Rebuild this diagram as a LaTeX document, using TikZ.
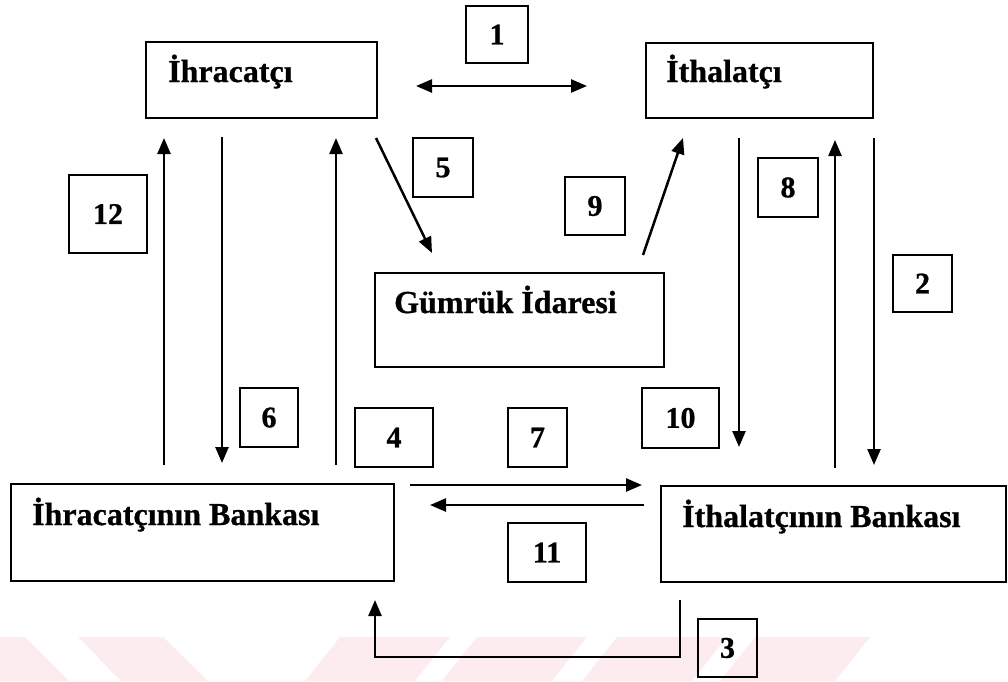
\documentclass[tikz,border=0pt]{standalone}
\usepackage{fontspec}
\setmainfont{Liberation Serif}[BoldFeatures={FakeBold=0.8}]
\usetikzlibrary{arrows.meta}
\definecolor{wm}{HTML}{FDECEF}
\begin{document}
\begin{tikzpicture}[x=1pt,y=-1pt,
  box/.style={draw, line width=2pt, inner sep=0pt},
  lbl/.style={font=\fontsize{32}{38}\selectfont\bfseries, inner sep=0pt, anchor=base west},
  num/.style={draw, line width=2pt, inner sep=0pt, font=\fontsize{30}{36}\selectfont\bfseries},
  arr/.style={line width=2.5pt, -{Triangle[length=16pt,width=13pt]}},
  darr/.style={line width=2.5pt, {Triangle[length=16pt,width=13pt]}-{Triangle[length=16pt,width=13pt]}},
]
\useasboundingbox (0,0) rectangle (1008,681);
% watermark
\fill[wm] (0,637) -- (25,637) -- (69,681) -- (0,681) -- cycle;
\fill[wm] (78,637) -- (163,637) -- (208,681) -- (121,681) -- cycle;
\fill[wm] (340,637) -- (450,637) -- (415,681) -- (305,681) -- cycle;
\fill[wm] (477,637) -- (587,637) -- (552,681) -- (442,681) -- cycle;
\fill[wm] (617,637) -- (727,637) -- (692,681) -- (582,681) -- cycle;
\fill[wm] (755,637) -- (870,637) -- (835,681) -- (720,681) -- cycle;

% main boxes
\node[box, minimum width=231pt, minimum height=76pt] (ihr) at (261.5,80) {};
\node[box, minimum width=227pt, minimum height=75pt] (ith) at (759.5,80.5) {};
\node[box, minimum width=289pt, minimum height=94pt] (gum) at (519.5,320) {};
\node[box, minimum width=383pt, minimum height=97pt] (ihrb) at (202.5,532.5) {};
\node[box, minimum width=345pt, minimum height=96pt] (ithb) at (833.5,534) {};
\node[lbl] (tihr) at (168,82) {İhracatçı};
\node[lbl] (tith) at (666,82) {İthalatçı};
\node[lbl] (tgum) at (394,313) {Gümrük İdaresi};
\node[lbl] (tihrb) at (32,525) {İhracatçının Bankası};
\node[lbl] (tithb) at (682,527) {İthalatçının Bankası};

% number boxes
\node[num, minimum width=62pt, minimum height=57pt] (n1) at (497,34.5) {1};
\node[num, minimum width=59pt, minimum height=57pt] (n2) at (922.5,283.5) {2};
\node[num, minimum width=59pt, minimum height=58pt] (n3) at (727.5,648) {3};
\node[num, minimum width=78pt, minimum height=59pt] (n4) at (394,437.5) {4};
\node[num, minimum width=60pt, minimum height=59pt] (n5) at (443,167.5) {5};
\node[num, minimum width=58pt, minimum height=59pt] (n6) at (269,417.5) {6};
\node[num, minimum width=59pt, minimum height=59pt] (n7) at (537.5,437.5) {7};
\node[num, minimum width=60pt, minimum height=59pt] (n8) at (788,187.5) {8};
\node[num, minimum width=60pt, minimum height=58pt] (n9) at (595,206) {9};
\node[num, minimum width=77pt, minimum height=60pt] (n10) at (680.5,418) {10};
\node[num, minimum width=78pt, minimum height=59pt] (n11) at (547,552.5) {11};
\node[num, minimum width=78pt, minimum height=78pt] (n12) at (108,214) {12};

% connector end points
\coordinate (a1s) at (416,86);   \coordinate (a1e) at (587,86);
\coordinate (a12s) at (164,465); \coordinate (a12e) at (164,138);
\coordinate (a6s) at (222,137);  \coordinate (a6e) at (222,463);
\coordinate (a4s) at (336,465);  \coordinate (a4e) at (336,138);
\coordinate (a5s) at (376,138);  \coordinate (a5e) at (432,253);
\coordinate (a9s) at (643,255);  \coordinate (a9e) at (683,138);
\coordinate (a8s) at (739,138);  \coordinate (a8e) at (739,447);
\coordinate (aus) at (835,468);  \coordinate (aue) at (835,140);
\coordinate (a2s) at (874,138);  \coordinate (a2e) at (874,465);
\coordinate (a7s) at (410,485);  \coordinate (a7e) at (642,485);
\coordinate (a11s) at (644,505); \coordinate (a11e) at (430,505);
\coordinate (a3s) at (680,600);  \coordinate (a3e) at (375,600);

\draw[darr] (a1s) -- (a1e);
\draw[arr] (a12s) -- (a12e);
\draw[arr] (a6s) -- (a6e);
\draw[arr] (a4s) -- (a4e);
\draw[arr] (a5s) -- (a5e);
\draw[arr] (a9s) -- (a9e);
\draw[arr] (a8s) -- (a8e);
\draw[arr] (aus) -- (aue);
\draw[arr] (a2s) -- (a2e);
\draw[arr] (a7s) -- (a7e);
\draw[arr] (a11s) -- (a11e);
\draw[arr] (a3s) -- (680,657) -- (375,657) -- (a3e);
\end{tikzpicture}
\end{document}
